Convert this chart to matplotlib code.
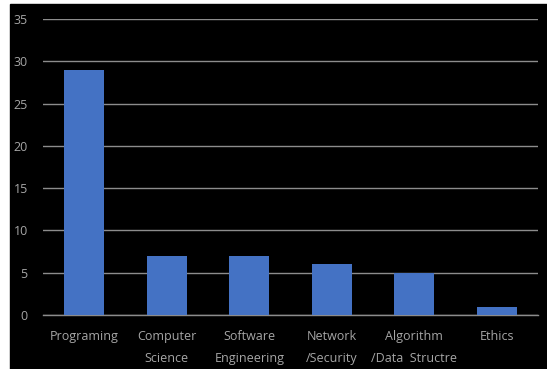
import matplotlib.pyplot as plt
from matplotlib.patches import Rectangle

categories = ["Programing", "Computer\nScience", "Software\nEngineering",
              "Network\n/Security", "Algorithm\n/Data  Structre", "Ethics"]
counts = [29, 7, 7, 6, 5, 1]
yticks = [0, 5, 10, 15, 20, 25, 30, 35]

W, H = 547, 369
fig = plt.figure(figsize=(W / 100, H / 100), dpi=100, facecolor="white")
# black panel behind the chart
fig.patches.append(Rectangle((10 / W, 0), 1 - 10 / W, 1 - 4 / H,
                             transform=fig.transFigure, color="black", zorder=-10))

ax = fig.add_axes([43 / W, 1 - 315 / H, (538 - 43) / W, (315 - 19) / H])
ax.set_facecolor("black")
ax.bar(range(len(categories)), counts, width=0.48, color="#4472C4", zorder=3)
ax.set_xlim(-0.5, len(categories) - 0.5)
ax.set_ylim(0, 35)
ax.set_yticks(yticks)
ax.grid(axis="y", color="#8c8c8c", linewidth=1.0, zorder=0)
for s in ["top", "right", "left"]:
    ax.spines[s].set_visible(False)
ax.spines["bottom"].set_color("#8c8c8c")
ax.spines["bottom"].set_linewidth(1.0)

ax.set_xticks(range(len(categories)))
ax.set_xticklabels(categories, linespacing=1.85, fontfamily="Open Sans")
for lbl in ax.get_yticklabels():
    lbl.set_fontfamily("Open Sans")
ax.tick_params(axis="both", length=0, colors="#a6a6a6", labelsize=9)
ax.tick_params(axis="x", pad=11)
ax.tick_params(axis="y", pad=11)

fig.savefig("out.png", dpi=100, facecolor="white")
